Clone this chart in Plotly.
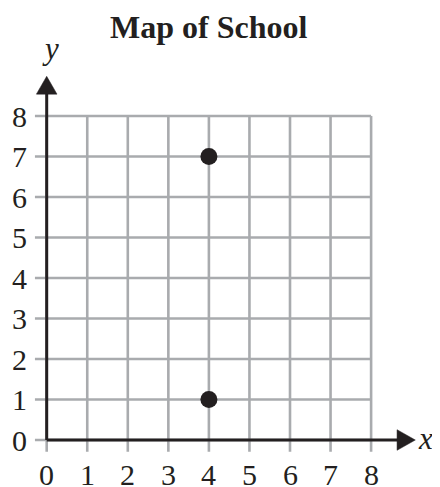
import plotly.graph_objects as go

# ---- data ----
title_text = "Map of School"
x_ticks = [0, 1, 2, 3, 4, 5, 6, 7, 8]
y_ticks = [0, 1, 2, 3, 4, 5, 6, 7, 8]
x_tick_labels = ["0", "1", "2", "3", "4", "5", "6", "7", "8"]
y_tick_labels = ["0", "1", "2", "3", "4", "5", "6", "7", "8"]
point_x = [4, 4]
point_y = [7, 1]
x_label = "x"
y_label = "y"

# ---- layout constants (pixel mapping) ----
PAGE_MARGIN = 8           # default body margin of the html page
W, H = 440 - PAGE_MARGIN, 487 - PAGE_MARGIN
X0PX, UX = 46.7 - PAGE_MARGIN, 40.55   # pixel of x=0, pixels per unit
Y0PX, UY = 440.0 - PAGE_MARGIN, 40.5   # pixel of y=0, pixels per unit
xr = [-X0PX / UX, (W - X0PX) / UX]
yr = [-(H - Y0PX) / UY, Y0PX / UY]

GRID_EXT = 0.29
GRID_COLOR = "#a9abae"
INK = "#231f20"
FONT = "Liberation Serif, Times New Roman, serif"

xmax = max(x_ticks)
ymax = max(y_ticks)

fig = go.Figure()

# gridlines
vx, vy = [], []
for xt in x_ticks:
    vx += [xt, xt, None]
    vy += [-GRID_EXT, ymax, None]
hx, hy = [], []
for yt in y_ticks:
    hx += [-GRID_EXT, xmax, None]
    hy += [yt, yt, None]
fig.add_trace(go.Scatter(x=vx, y=vy, mode="lines",
                         line=dict(color=GRID_COLOR, width=2.6),
                         hoverinfo="skip", showlegend=False))
fig.add_trace(go.Scatter(x=hx, y=hy, mode="lines",
                         line=dict(color=GRID_COLOR, width=2.6),
                         hoverinfo="skip", showlegend=False))

# axes with arrows
Y_ARROW_BASE = 8.54
Y_ARROW_TIP = 8.98
X_ARROW_BASE = 8.64
X_ARROW_TIP = 9.09
HALF_W_X = 10.3 / UX
HALF_W_Y = 10.3 / UY

fig.add_trace(go.Scatter(x=[0, 0], y=[0, Y_ARROW_BASE + 0.05], mode="lines",
                         line=dict(color=INK, width=3),
                         hoverinfo="skip", showlegend=False))
fig.add_trace(go.Scatter(x=[0, X_ARROW_BASE + 0.05], y=[0, 0], mode="lines",
                         line=dict(color=INK, width=3),
                         hoverinfo="skip", showlegend=False))
fig.add_trace(go.Scatter(x=[-HALF_W_X, HALF_W_X, 0, -HALF_W_X],
                         y=[Y_ARROW_BASE, Y_ARROW_BASE, Y_ARROW_TIP, Y_ARROW_BASE],
                         mode="lines", fill="toself", fillcolor=INK,
                         line=dict(color=INK, width=0.5),
                         hoverinfo="skip", showlegend=False))
fig.add_trace(go.Scatter(x=[X_ARROW_BASE, X_ARROW_BASE, X_ARROW_TIP, X_ARROW_BASE],
                         y=[-HALF_W_Y, HALF_W_Y, 0, -HALF_W_Y],
                         mode="lines", fill="toself", fillcolor=INK,
                         line=dict(color=INK, width=0.5),
                         hoverinfo="skip", showlegend=False))

# points
fig.add_trace(go.Scatter(x=point_x, y=point_y, mode="markers",
                         marker=dict(color=INK, size=17, line=dict(width=0)),
                         hoverinfo="skip", showlegend=False))

annotations = []
for xt, lab in zip(x_ticks, x_tick_labels):
    annotations.append(dict(x=xt, y=0, xref="x", yref="y", text=lab,
                            showarrow=False, xanchor="center", yanchor="middle",
                            yshift=-34, font=dict(family=FONT, size=30, color=INK)))
for yt, lab in zip(y_ticks, y_tick_labels):
    annotations.append(dict(x=0, y=yt, xref="x", yref="y", text=lab,
                            showarrow=False, xanchor="center", yanchor="middle",
                            xshift=-27, font=dict(family=FONT, size=30, color=INK)))
annotations.append(dict(x=X_ARROW_TIP, y=0, xref="x", yref="y",
                        text="<i>" + x_label + "</i>", showarrow=False,
                        xanchor="center", yanchor="middle", xshift=10, yshift=2,
                        font=dict(family=FONT, size=31, color=INK)))
annotations.append(dict(x=0, y=Y_ARROW_TIP, xref="x", yref="y",
                        text="<i>" + y_label + "</i>", showarrow=False,
                        xanchor="center", yanchor="middle", xshift=4, yshift=28,
                        font=dict(family=FONT, size=31, color=INK)))
annotations.append(dict(x=xmax / 2, y=Y_ARROW_TIP, xref="x", yref="y",
                        text="<b>" + title_text + "</b>", showarrow=False,
                        xanchor="center", yanchor="middle", yshift=49,
                        font=dict(family=FONT, size=32, color=INK)))

fig.update_layout(
    width=W, height=H,
    margin=dict(l=0, r=0, t=0, b=0),
    paper_bgcolor="white", plot_bgcolor="white",
    xaxis=dict(range=xr, visible=False, fixedrange=True),
    yaxis=dict(range=yr, visible=False, fixedrange=True),
    annotations=annotations,
    showlegend=False,
)

fig.write_html("out.html")
